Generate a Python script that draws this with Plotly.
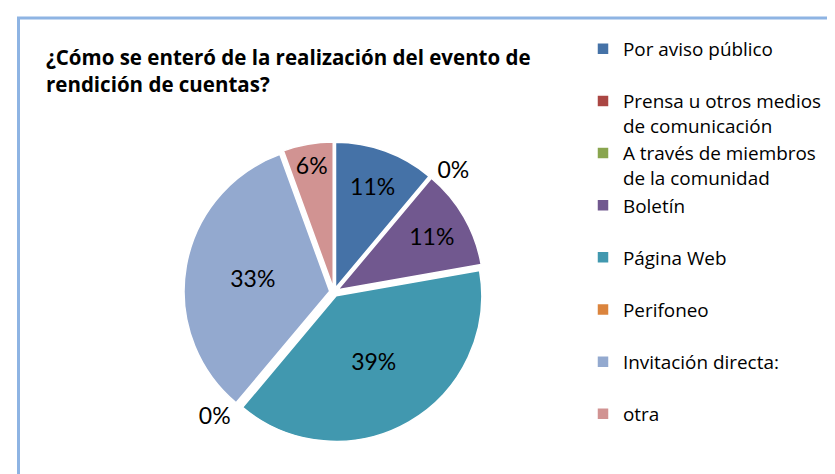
import plotly.graph_objects as go

labels = ["Por aviso público<br> ", "Prensa u otros medios<br>de comunicación",
          "A través de miembros<br>de la comunidad", "Boletín<br> ", "Página Web<br> ",
          "Perifoneo<br> ", "Invitación directa:<br> ", "otra<br> "]
values = [2, 0, 0, 2, 7, 0, 6, 1]
colors = ["#4572A7", "#AA4643", "#89A54E", "#71588F", "#4198AF",
          "#DB843D", "#93A9CF", "#D19392"]
title_text = "¿Cómo se enteró de la realización del evento de<br>rendición de cuentas?"

W, H = 835, 474
cx, cy, half = 326, 284, 150

textpos = ["inside" if v > 0 else "outside" for v in values]
templates = ["%{percent:.0%}"] * len(values)
templates[1] = ""

fig = go.Figure(go.Pie(
    labels=labels, values=values, sort=False, direction="clockwise", rotation=0,
    marker=dict(colors=colors, line=dict(color="white", width=1.5)),
    pull=0.03, textinfo="percent", texttemplate=templates,
    textposition=textpos, insidetextorientation="horizontal",
    textfont=dict(family="Lato", size=23, color="#000000"),
    domain=dict(x=[(cx - half) / W, (cx + half) / W],
                y=[1 - (cy + half) / H, 1 - (cy - half) / H]),
    showlegend=True,
))

fig.update_layout(
    width=W, height=H, margin=dict(l=0, r=0, t=0, b=0),
    paper_bgcolor="white", plot_bgcolor="white",
    font=dict(family="Open Sans", color="#000000"),
    title=dict(text=title_text, x=38 / W, xanchor="left", y=1 - 57 / H, yanchor="top",
               font=dict(family="Open Sans", size=20.5, color="#000000", weight="bold")),
    legend=dict(x=575 / W, xanchor="left", y=1 - 22 / H, yanchor="top", valign="top",
                font=dict(family="Open Sans", size=18.9, color="#000000"),
                traceorder="normal"),
    shapes=[dict(type="rect", xref="paper", yref="paper",
                 x0=10.5 / W, x1=1 + 20 / W, y0=-20 / H, y1=1 - 10 / H,
                 line=dict(color="#8EB4E3", width=3), fillcolor="rgba(0,0,0,0)")],
)

fig.write_html("out.html")
